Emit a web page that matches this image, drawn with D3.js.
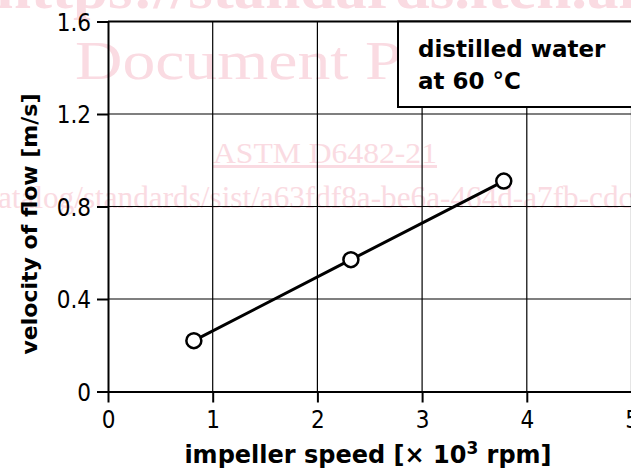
<!DOCTYPE html>
<html>
<head>
<meta charset="utf-8">
<script src="https://cdn.jsdelivr.net/npm/d3@7"></script>
<style>
  body { margin: 0; background: #fff; }
  svg { display: block; }
</style>
</head>
<body>
<div id="chart"></div>
<script>
// chart values
var speeds = [0.82, 2.32, 3.78];          // impeller speed [x 10^3 rpm]
var velocities = [0.22, 0.57, 0.91];      // velocity of flow [m/s]
var xTicks = [0, 1, 2, 3, 4, 5];
var yTicks = [0, 0.4, 0.8, 1.2, 1.6];
var legendLines = ["distilled water", "at 60 °C"];

var W = 631, H = 474;
var margin = { top: 21.5, right: 0, bottom: 82.5, left: 108 };

var svg = d3.select("#chart")
    .append("svg")
    .attr("width", W)
    .attr("height", H);

var font = "'DejaVu Sans', Verdana, sans-serif";
var tickFont = "'DejaVu Sans Condensed', 'DejaVu Sans', sans-serif";
var pink = "#fadbe2";

// watermark (behind everything)
var wm = svg.append("g").attr("font-family", "'Liberation Serif', serif").attr("fill", pink);
wm.append("text").attr("x", -4).attr("y", 8)
    .attr("font-size", 56).attr("font-weight", "bold")
    .attr("textLength", 640).attr("lengthAdjust", "spacingAndGlyphs")
    .text("https://standards.iteh.ai");
wm.append("text").attr("x", 75).attr("y", 79)
    .attr("font-size", 54)
    .attr("textLength", 505).attr("lengthAdjust", "spacingAndGlyphs")
    .text("Document Preview");
wm.append("text").attr("x", 213).attr("y", 163)
    .attr("font-size", 30).attr("text-decoration", "underline")
    .attr("textLength", 224).attr("lengthAdjust", "spacingAndGlyphs")
    .text("ASTM D6482-21");
wm.append("text").attr("x", -2).attr("y", 208)
    .attr("font-size", 32)
    .attr("textLength", 650).attr("lengthAdjust", "spacingAndGlyphs")
    .text("atalog/standards/sist/a63fdf8a-be6a-464d-a7fb-cdc1");

// scales
var x = d3.scaleLinear().domain([0, 5]).range([margin.left, 631.5]);
var y = d3.scaleLinear().domain([0, 1.6]).range([H - margin.bottom, margin.top]);

// grid
svg.append("g").selectAll("line")
    .data(xTicks.slice(1))
    .enter().append("line")
    .attr("x1", d => x(d)).attr("x2", d => x(d))
    .attr("y1", y(0)).attr("y2", y(1.6))
    .attr("stroke", "#000").attr("stroke-width", 1.2);
svg.append("g").selectAll("line")
    .data(yTicks.slice(1))
    .enter().append("line")
    .attr("x1", x(0)).attr("x2", W)
    .attr("y1", d => y(d)).attr("y2", d => y(d))
    .attr("stroke", "#000").attr("stroke-width", d => d === 1.6 ? 2 : 1.2);

// axes
var xAxis = svg.append("g")
    .attr("transform", "translate(0," + y(0) + ")")
    .call(d3.axisBottom(x).tickValues(xTicks).tickFormat(d3.format("d")).tickSizeInner(11).tickSizeOuter(0).tickPadding(8));
var yAxis = svg.append("g")
    .attr("transform", "translate(" + x(0) + ",0)")
    .call(d3.axisLeft(y).tickValues(yTicks).tickFormat(d => d === 0 ? "0" : d3.format(".1f")(d)).tickSizeInner(11).tickSizeOuter(0).tickPadding(6));

[xAxis, yAxis].forEach(function (a) {
    a.select(".domain").attr("stroke", "#000").attr("stroke-width", 2);
    a.selectAll(".tick line").attr("stroke", "#000").attr("stroke-width", 2);
    a.selectAll(".tick text").attr("font-family", tickFont).attr("font-size", 24).attr("fill", "#000");
});
yAxis.selectAll(".tick text").attr("dy", "0.36em");

// legend box
var lg = svg.append("g");
lg.append("rect")
    .attr("x", 398).attr("y", y(1.6))
    .attr("width", 250).attr("height", 85.5)
    .attr("fill", "#fff").attr("stroke", "#000").attr("stroke-width", 2);
lg.selectAll("text")
    .data(legendLines)
    .enter().append("text")
    .attr("x", 418)
    .attr("y", (d, i) => 57 + i * 32)
    .attr("font-family", font).attr("font-weight", "bold").attr("font-size", 23)
    .attr("fill", "#000")
    .text(d => d);

// data line + points
var pts = speeds.map((s, i) => [s, velocities[i]]);
svg.append("path")
    .datum(pts)
    .attr("d", d3.line().x(d => x(d[0])).y(d => y(d[1])))
    .attr("fill", "none").attr("stroke", "#000").attr("stroke-width", 3);
svg.append("g").selectAll("circle")
    .data(pts)
    .enter().append("circle")
    .attr("cx", d => x(d[0])).attr("cy", d => y(d[1]))
    .attr("r", 7.5)
    .attr("fill", "#fff").attr("stroke", "#000").attr("stroke-width", 2.5);

// axis titles
var xt = svg.append("text")
    .attr("x", 368).attr("y", 463)
    .attr("text-anchor", "middle")
    .attr("font-family", font).attr("font-weight", "bold").attr("font-size", 24)
    .attr("fill", "#000");
xt.append("tspan").text("impeller speed [× 10");
xt.append("tspan").attr("dy", -9).attr("font-size", 17).text("3");
xt.append("tspan").attr("dy", 9).text(" rpm]");

svg.append("text")
    .attr("transform", "translate(37," + 224 + ") rotate(-90)")
    .attr("text-anchor", "middle")
    .attr("font-family", font).attr("font-weight", "bold").attr("font-size", 22)
    .attr("fill", "#000")
    .text("velocity of flow [m/s]");
</script>
</body>
</html>
